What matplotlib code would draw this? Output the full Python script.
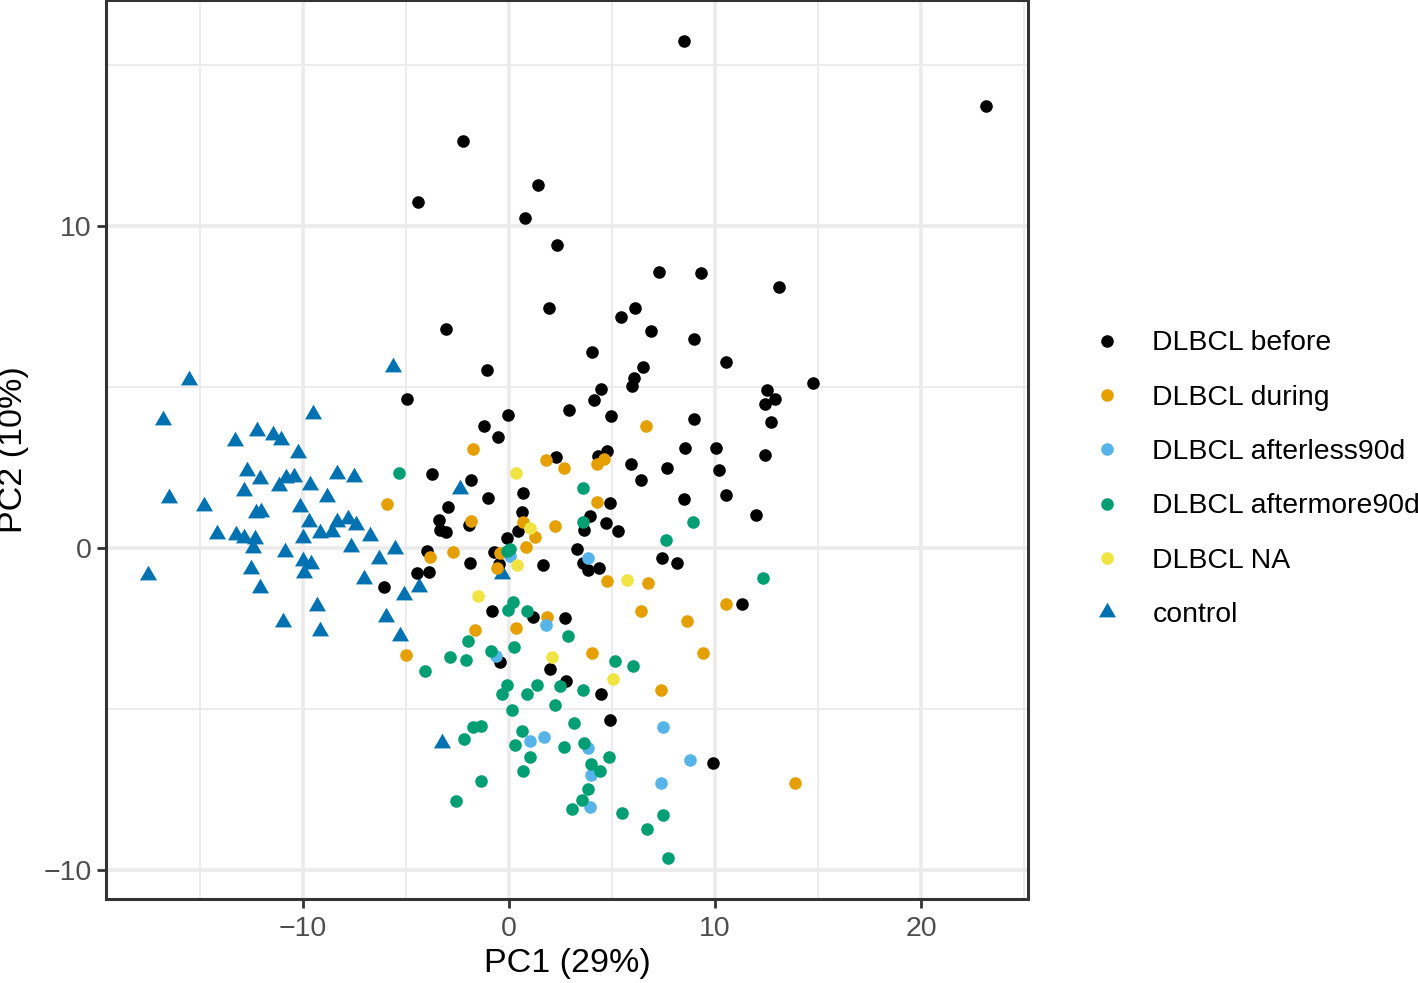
import matplotlib
matplotlib.use("Agg")
import matplotlib.pyplot as plt
import numpy as np
from matplotlib.lines import Line2D

plt.rcParams['font.family'] = ['Liberation Sans', 'DejaVu Sans']

# ---------------- data ----------------
before_x = [8.47, 23.15, -2.24, -4.42, 1.40, 0.79, 2.34, 7.26, 9.33, 13.11, 1.94, 6.12, 5.41, 6.89, -3.08,
            8.96, 4.02, 10.51, 6.52, -1.08, 6.05, 5.96, 4.47, 12.54, 14.74, -4.94, 12.91, 12.41, 4.10, 2.91,
            -0.05, 4.94, -1.24, 8.96, 12.72, -0.53, 8.54, 10.02, 12.43, 4.33, 4.73, 2.28, 5.91, 7.65, 10.20,
            6.41, -3.74, -1.83, 10.54, 8.49, 0.66, -1.03, 11.96, 4.89, -2.95, 0.65, 3.92, 4.68, -3.39, -1.95,
            3.63, 5.29, -3.34, -3.08, 0.45, -0.10, 3.31, -3.99, -0.71, 3.57, 3.81, 4.34, 7.42, 8.17, -0.50,
            -1.90, 1.66, -4.47, -3.89, -6.09, 11.30, -0.84, 1.18, 2.73, -0.44, 2.00, 2.76, 4.47, 4.88, 9.89]
before_y = [15.75, 13.74, 12.64, 10.76, 11.27, 10.25, 9.40, 8.56, 8.53, 8.12, 7.46, 7.45, 7.19, 6.73, 6.82,
            6.49, 6.10, 5.78, 5.63, 5.53, 5.28, 5.03, 4.93, 4.92, 5.13, 4.64, 4.63, 4.47, 4.61, 4.29,
            4.13, 4.12, 3.81, 4.01, 3.92, 3.46, 3.12, 3.12, 2.88, 2.86, 3.02, 2.84, 2.61, 2.48, 2.44,
            2.11, 2.29, 2.13, 1.64, 1.54, 1.70, 1.55, 1.02, 1.39, 1.28, 1.14, 1.00, 0.77, 0.87, 0.72,
            0.56, 0.52, 0.56, 0.49, 0.53, 0.31, -0.01, -0.10, -0.11, -0.47, -0.68, -0.62, -0.29, -0.47, -0.49,
            -0.47, -0.51, -0.78, -0.75, -1.20, -1.72, -1.95, -2.15, -2.17, -3.52, -3.75, -4.11, -4.53, -5.33, -6.67]

during_x = [6.63, -1.73, 1.79, 2.66, 4.25, 4.62, 4.28, -5.92, -1.84, 0.69, 1.24, 2.23, 0.82, -0.44, -2.70,
            -3.86, -0.60, 4.75, 6.72, 6.39, 1.82, -1.65, 0.32, 4.00, -4.99, 7.35, 10.54, 8.65, 13.88, 9.41]
during_y = [3.79, 3.09, 2.74, 2.50, 2.60, 2.76, 1.42, 1.36, 0.85, 0.80, 0.34, 0.68, 0.04, -0.16, -0.13,
            -0.27, -0.60, -1.01, -1.09, -1.94, -2.15, -2.53, -2.48, -3.24, -3.31, -4.40, -1.72, -2.27, -7.30, -3.24]

less90_x = [3.84, 1.78, -0.63, 0.05, 1.02, 1.69, 3.81, 3.97, 3.92, 7.46, 7.38, 8.80]
less90_y = [-0.31, -2.38, -3.34, -0.24, -5.97, -5.87, -6.21, -7.03, -8.02, -5.54, -7.30, -6.56]

more90_x = [-5.36, 3.60, 3.60, 7.60, -0.11, 0.05, 0.18, -0.03, 0.86, 2.84, -2.00, 0.26, -0.89, -2.89, -2.08,
            -4.07, 5.15, 6.02, -0.11, -0.35, 1.34, 0.89, 2.47, 3.57, 0.13, 2.23, 3.16, -1.73, -1.37, -2.21,
            0.63, 0.29, 2.65, 3.62, 4.86, 1.03, 3.96, 4.41, 0.66, -1.37, 3.84, 3.52, 3.05, -2.58, 5.47,
            7.49, 6.68, 7.73, 8.91, 12.30]
more90_y = [2.33, 1.88, 0.80, 0.26, -0.08, -0.03, -1.68, -1.91, -1.94, -2.72, -2.89, -3.07, -3.18, -3.39, -3.47,
            -3.80, -3.51, -3.65, -4.23, -4.53, -4.25, -4.53, -4.27, -4.40, -5.01, -4.87, -5.44, -5.54, -5.51, -5.92,
            -5.68, -6.11, -6.16, -6.06, -6.49, -6.47, -6.70, -6.92, -6.90, -7.21, -7.47, -7.80, -8.09, -7.86, -8.22,
            -8.27, -8.72, -9.62, 0.80, -0.93]

na_x = [0.34, 1.02, 0.37, -1.49, 5.70, 2.07, 5.05]
na_y = [2.35, 0.64, -0.52, -1.48, -0.99, -3.37, -4.06]

control_x = [-5.63, -15.54, -16.82, -9.51, -12.25, -11.44, -11.06, -13.30, -10.23, -12.74, -12.09, -10.85, -10.43,
             -11.15, -12.88, -9.64, -8.34, -7.55, -8.83, -16.51, -14.79, -10.15, -12.29, -12.04, -9.73, -8.33,
             -7.84, -7.41, -9.17, -8.59, -14.19, -13.27, -12.88, -12.33, -10.02, -6.73, -12.41, -7.69, -5.54,
             -10.88, -10.02, -9.62, -9.96, -6.33, -12.53, -17.53, -12.09, -7.05, -4.39, -5.08, -9.30, -5.99,
             -10.99, -9.17, -5.28, -2.37, -0.35, -3.26]
control_y = [5.63, 5.22, 3.97, 4.18, 3.64, 3.50, 3.36, 3.33, 2.97, 2.40, 2.14, 2.19, 2.22,
             1.93, 1.78, 1.95, 2.29, 2.21, 1.59, 1.57, 1.31, 1.28, 1.09, 1.14, 0.82, 0.80,
             0.92, 0.72, 0.47, 0.51, 0.43, 0.41, 0.33, 0.28, 0.33, 0.38, 0.02, 0.04, -0.03,
             -0.11, -0.39, -0.50, -0.78, -0.34, -0.65, -0.83, -1.22, -0.96, -1.19, -1.44, -1.79, -2.15,
             -2.28, -2.56, -2.72, 1.83, -0.81, -6.06]

groups = ["DLBCL before", "DLBCL during", "DLBCL afterless90d", "DLBCL aftermore90d", "DLBCL NA", "control"]
colors = ["#000000", "#E69F00", "#56B4E9", "#009E73", "#F0E442", "#0072B2"]

# ---------------- figure ----------------
W, H = 1418, 983
fig = plt.figure(figsize=(W / 100, H / 100), dpi=100)
ax = fig.add_axes([106 / W, 1 - 899 / H, 922 / W, 899 / H])

tri = [(0, 1), (-0.866, -0.5), (0.866, -0.5)]
circ_s = 82
tri_s = 200

series = [
    (control_x, control_y, 5, tri, tri_s),
    (before_x, before_y, 0, 'o', circ_s),
    (during_x, during_y, 1, 'o', circ_s),
    (less90_x, less90_y, 2, 'o', circ_s),
    (more90_x, more90_y, 3, 'o', circ_s),
    (na_x, na_y, 4, 'o', circ_s),
]
for xs, ys, gi, mk, s in series:
    ax.scatter(xs, ys, s=s, marker=mk, color=colors[gi], linewidths=0, zorder=3)

allx = np.concatenate([before_x, during_x, less90_x, more90_x, na_x, control_x])
ally = np.concatenate([before_y, during_y, less90_y, more90_y, na_y, control_y])
rx = allx.max() - allx.min()
ry = ally.max() - ally.min()
ax.set_xlim(allx.min() - 0.05 * rx, allx.max() + 0.05 * rx)
ax.set_ylim(ally.min() - 0.05 * ry, ally.max() + 0.05 * ry)

ax.set_xticks([-10, 0, 10, 20])
ax.set_xticklabels(['\u221210', '0', '10', '20'])
ax.set_yticks([-10, 0, 10])
ax.set_yticklabels(['\u221210', '0', '10'])
ax.set_xticks([-15, -5, 5, 15, 25], minor=True)
ax.set_yticks([-5, 5, 15], minor=True)
ax.grid(which='major', color='#EBEBEB', linewidth=2.6, zorder=0)
ax.grid(which='minor', color='#EBEBEB', linewidth=1.3, zorder=0)
ax.set_axisbelow(True)
ax.tick_params(which='minor', length=0)
ax.tick_params(which='major', length=6.5, width=2, color='#333333', labelcolor='#4D4D4D',
               labelsize=20.5, pad=4)
ax.tick_params(axis='x', which='major', pad=6)
for sp in ax.spines.values():
    sp.set_color('#333333')
    sp.set_linewidth(2.2)

ax.set_xlabel('PC1 (29%)', fontsize=24.5, color='black', labelpad=4)
ax.set_ylabel('PC2 (10%)', fontsize=24.5, color='black', labelpad=10)

handles = []
for gi, g in enumerate(groups):
    if g == 'control':
        h = Line2D([], [], linestyle='none', marker=tri, markersize=np.sqrt(tri_s),
                   markerfacecolor=colors[gi], markeredgewidth=0)
    else:
        h = Line2D([], [], linestyle='none', marker='o', markersize=np.sqrt(circ_s),
                   markerfacecolor=colors[gi], markeredgewidth=0)
    handles.append(h)
leg = fig.legend(handles, groups, loc='upper left', bbox_to_anchor=(1090 / W, 1 - 330.5 / H),
                 frameon=False, fontsize=20.4, labelspacing=1.0, handletextpad=1.0,
                 handlelength=1.2, borderaxespad=0, borderpad=0)

fig.savefig('out.png', dpi=100)
